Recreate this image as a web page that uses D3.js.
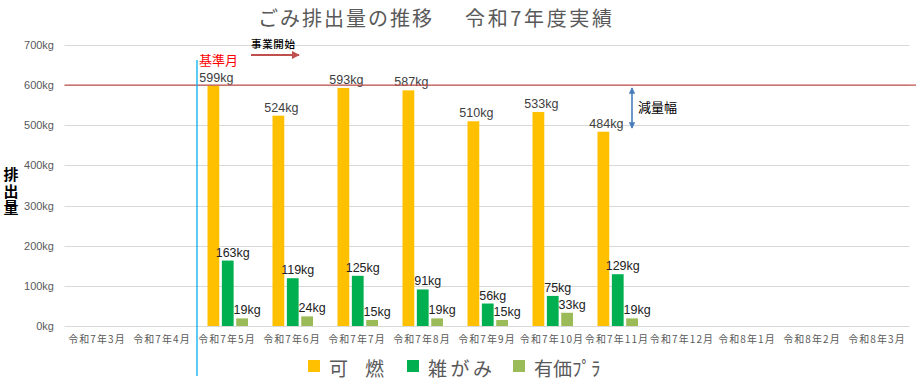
<!DOCTYPE html>
<html><head><meta charset="utf-8">
<script src="https://cdn.jsdelivr.net/npm/d3@7"></script>
<style>
html,body{margin:0;padding:0;background:#fff;}
svg{display:block;font-family:"Noto Sans CJK JP","Noto Sans",sans-serif;}
</style></head>
<body><svg id="c" width="916" height="382"></svg>
<script>
const categories = ["令和7年3月","令和7年4月","令和7年5月","令和7年6月","令和7年7月","令和7年8月","令和7年9月","令和7年10月","令和7年11月","令和7年12月","令和8年1月","令和8年2月","令和8年3月"];
const seriesNames = ["可　燃","雑がみ","有価ﾌﾟﾗ"];
const combustible = [null,null,599,524,593,587,510,533,484,null,null,null,null];
const paper = [null,null,163,119,125,91,56,75,129,null,null,null,null];
const plastic = [null,null,19,24,15,19,15,33,19,null,null,null,null];
const yTicks = [0,100,200,300,400,500,600,700];
const baseline = 600;
const colors = ["#FFC000","#00B050","#9BBB59"];

(function(){
const svg = d3.select("#c");
const pL = 64.5, pR = 909.5, pT = 45, pB = 326;
const x = d3.scaleBand().domain(categories).range([pL, pR]);
const y = d3.scaleLinear().domain([0,700]).range([pB, pT]);
const xs = d3.scaleBand().domain([0,1,2]).range([-19.5, 21]).paddingInner(0.18);

// gridlines
svg.append("g").selectAll("line").data(yTicks).join("line")
  .attr("x1", pL).attr("x2", pR)
  .attr("y1", d => Math.round(y(d))+0.5).attr("y2", d => Math.round(y(d))+0.5)
  .attr("stroke", "#d9d9d9").attr("stroke-width", 1);

// y axis labels
const yAxis = d3.axisLeft(y).tickValues(yTicks).tickFormat(d => d + "kg").tickSize(0).tickPadding(0);
const ya = svg.append("g").attr("transform", `translate(54,0)`).call(yAxis);
ya.select(".domain").remove();
ya.selectAll("text").attr("fill", "#595959").attr("font-size", 11).attr("font-family", "'Liberation Sans','Noto Sans',sans-serif");

// x axis labels
const xAxis = d3.axisBottom(x).tickSize(0).tickPadding(0);
const xa = svg.append("g").attr("transform", `translate(0,${pB})`).call(xAxis);
xa.select(".domain").remove();
xa.selectAll("text").attr("fill", "#595959").attr("font-size", 10).attr("dy", 0).attr("y", 17)
  .attr("letter-spacing", 1.1)
  .attr("font-family", "'Noto Sans CJK JP',sans-serif");

// bars
const series = [combustible, paper, plastic];
series.forEach((vals, si) => {
  const g = svg.append("g");
  const data = categories.map((c, i) => ({c, v: vals[i]})).filter(d => d.v != null);
  g.selectAll("rect").data(data).join("rect")
    .attr("x", d => x(d.c) + x.bandwidth()/2 + xs(si))
    .attr("width", xs.bandwidth())
    .attr("y", d => y(d.v))
    .attr("height", d => y(0) - y(d.v))
    .attr("fill", colors[si]);
  g.selectAll("text").data(data).join("text")
    .attr("x", d => x(d.c) + x.bandwidth()/2 + xs(si) + xs.bandwidth()/2 + (si === 0 ? 3 : 5))
    .attr("y", d => y(d.v) - 4)
    .attr("text-anchor", "middle")
    .attr("font-size", 12.5)
    .attr("font-family", "'Liberation Sans','Noto Sans',sans-serif")
    .attr("fill", si === 0 ? "#404040" : "#222")
    .text(d => d.v + "kg");
});

// baseline red line
svg.append("line").attr("x1", pL).attr("x2", 916)
  .attr("y1", y(baseline)).attr("y2", y(baseline))
  .attr("stroke", "#C0504D").attr("stroke-width", 1.3);

// blue vertical line
const vx = x(categories[2]) + 2.5;
svg.append("line").attr("x1", vx).attr("x2", vx).attr("y1", 60).attr("y2", 376)
  .attr("stroke", "#00B0F0").attr("stroke-width", 1.3);

svg.append("text").attr("x", 199).attr("y", 65).attr("font-size", 13)
  .attr("fill", "#FF0000").text("基準月");

// 事業開始 + arrow
const defs = svg.append("defs");
defs.append("marker").attr("id","ar").attr("viewBox","0 0 10 10").attr("refX",9).attr("refY",5)
  .attr("markerWidth",4).attr("markerHeight",4).attr("orient","auto")
  .append("path").attr("d","M0,0L10,5L0,10z").attr("fill","#C0504D");
defs.append("marker").attr("id","ab").attr("viewBox","0 0 10 10").attr("refX",9).attr("refY",5)
  .attr("markerWidth",4).attr("markerHeight",4).attr("orient","auto-start-reverse")
  .append("path").attr("d","M0,0L10,5L0,10z").attr("fill","#4A7EBB");
svg.append("text").attr("x", 251).attr("y", 48).attr("font-size", 10.5).attr("font-weight","500")
  .attr("fill", "#000").attr("textLength", 44).attr("lengthAdjust","spacing").text("事業開始");
svg.append("line").attr("x1", 251).attr("x2", 299).attr("y1", 55).attr("y2", 55)
  .attr("stroke", "#C0504D").attr("stroke-width", 2).attr("marker-end","url(#ar)");

// 減量幅 arrow
svg.append("line").attr("x1", 632).attr("x2", 632).attr("y1", 88).attr("y2", 128)
  .attr("stroke", "#4A7EBB").attr("stroke-width", 1.6)
  .attr("marker-start","url(#ab)").attr("marker-end","url(#ab)");
svg.append("text").attr("x", 638).attr("y", 112).attr("font-size", 13)
  .attr("fill", "#000").text("減量幅");

// title
svg.append("text").attr("x", 258).attr("y", 26).attr("font-size", 20)
  .attr("fill", "#595959").attr("textLength", 174).attr("lengthAdjust","spacing").text("ごみ排出量の推移");
svg.append("text").attr("x", 465).attr("y", 26).attr("font-size", 20)
  .attr("fill", "#595959").attr("textLength", 147).attr("lengthAdjust","spacing").text("令和7年度実績");

// y axis title (vertical writing)
svg.append("text").attr("x", 11).attr("y", 167)
  .style("writing-mode", "vertical-rl")
  .attr("font-size", 15).attr("font-weight","bold").attr("fill","#000")
  .attr("letter-spacing", 1.5)
  .text("排出量");

// legend
const legX = [308, 407, 513];
const legW = [55, 64, null];
seriesNames.forEach((n, i) => {
  svg.append("rect").attr("x", legX[i]).attr("y", 360).attr("width", 12).attr("height", 12).attr("fill", colors[i]);
  const t = svg.append("text").attr("x", legX[i] + 21).attr("y", 376).attr("font-size", 19)
    .attr("fill", "#595959").text(n);
  if (legW[i]) t.attr("textLength", legW[i]).attr("lengthAdjust","spacing");
});
})();
</script></body></html>
